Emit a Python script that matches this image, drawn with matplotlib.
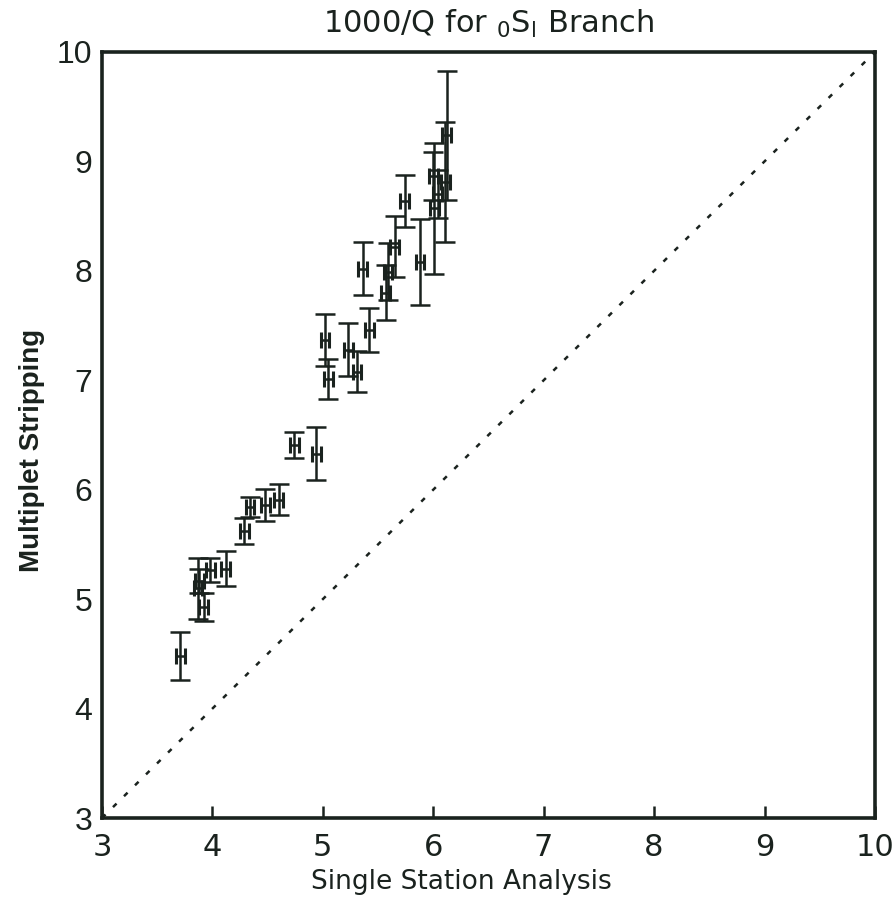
import matplotlib
matplotlib.use("Agg")
import matplotlib.pyplot as plt

# Data
x_single = [3.71, 3.87, 3.88, 3.92, 3.98, 4.12, 4.29, 4.34, 4.48, 4.60, 4.74, 4.94,
            5.02, 5.05, 5.23, 5.31, 5.36, 5.42, 5.57, 5.59, 5.65, 5.74, 5.88,
            6.01, 6.00, 6.04, 6.11, 6.12]
y_multi = [4.48, 5.10, 5.17, 4.93, 5.27, 5.28, 5.62, 5.84, 5.86, 5.91, 6.41, 6.33,
           7.37, 7.01, 7.28, 7.08, 8.02, 7.46, 7.80, 7.99, 8.22, 8.64, 8.08,
           8.57, 8.87, 8.70, 8.81, 9.24]
y_err = [0.22, 0.28, 0.11, 0.13, 0.11, 0.16, 0.12, 0.09, 0.15, 0.14, 0.12, 0.24,
         0.24, 0.18, 0.24, 0.19, 0.24, 0.20, 0.25, 0.26, 0.28, 0.24, 0.39,
         0.60, 0.22, 0.22, 0.55, 0.59]
x_err = [0.04] * len(x_single)

x_ticks = [3, 4, 5, 6, 7, 8, 9, 10]
y_ticks = [3, 4, 5, 6, 7, 8, 9, 10]

col = "#1a221e"

fig = plt.figure(figsize=(8.93, 9.02), dpi=100)
ax = fig.add_axes([0.1142, 0.0931, 0.8656, 0.8493])

ax.plot([3, 10], [3, 10], color=col, lw=1.8, linestyle=(0, (2.0, 4.2)))

ax.errorbar(x_single, y_multi, yerr=y_err, fmt="none", ecolor=col,
            elinewidth=1.8, capsize=7, capthick=1.8)
ax.errorbar(x_single, y_multi, xerr=x_err, fmt="none", ecolor=col,
            elinewidth=1.8, capsize=6, capthick=2.2)

ax.set_xlim(3, 10)
ax.set_ylim(3, 10)
ax.set_xticks(x_ticks)
ax.set_yticks(y_ticks)
ax.set_xticklabels([str(t) for t in x_ticks], fontsize=22, family="DejaVu Sans", color=col)
ax.set_yticklabels([str(t) for t in y_ticks], fontsize=23, family="Liberation Sans", color=col)
ax.tick_params(axis="x", direction="in", length=9, width=1.8, pad=11, colors=col, top=False)
ax.tick_params(axis="y", direction="in", length=0, pad=7, colors=col, right=False)
for s in ax.spines.values():
    s.set_linewidth(2.6)
    s.set_color(col)

ax.set_xlabel("Single Station Analysis", fontsize=19, family="DejaVu Sans", color=col)
ax.xaxis.set_label_coords(0.465, -0.066)
ax.set_ylabel("Multiplet Stripping", fontsize=20, family="Liberation Sans",
              fontweight="bold", color=col)
ax.yaxis.set_label_coords(-0.074, 0.48)
ax.set_title(r"1000/Q for $_{\mathregular{0}}\mathregular{S}_{\mathregular{l}}$ Branch",
             fontsize=22, family="DejaVu Sans", color=col, pad=14)

fig.savefig("out.png", dpi=100)
